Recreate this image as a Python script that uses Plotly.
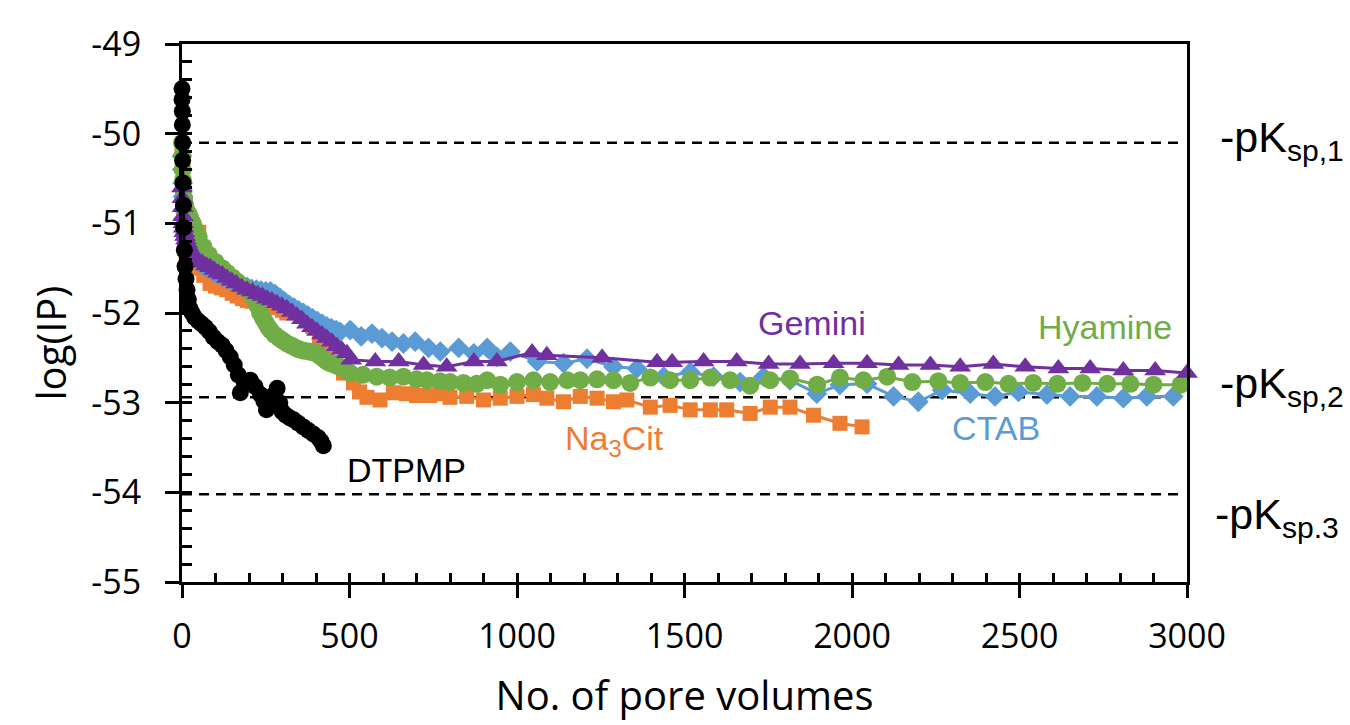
import plotly.graph_objects as go

# ---------------- data ----------------
gemini_x = [0, 1, 2, 3, 4, 5, 7, 9, 12, 15,
            20, 26, 34, 42, 50, 60, 72, 84, 96, 108,
            120, 134, 148, 162, 178, 194, 210, 226, 240, 254,
            268, 283, 298, 313, 328, 343, 358, 373, 388, 403,
            418, 432, 447, 462, 477, 492, 505, 577, 647, 721,
            790, 871, 940, 1045, 1089, 1254, 1418, 1463, 1557, 1656,
            1751, 1845, 1945, 2045, 2139, 2234, 2323, 2422, 2517, 2616,
            2711, 2810, 2905, 3000]
gemini_y = [-50.60, -50.72, -50.82, -50.92, -51.00, -51.05, -51.10, -51.14, -51.18, -51.22,
            -51.26, -51.31, -51.37, -51.40, -51.42, -51.44, -51.47, -51.49, -51.52, -51.55,
            -51.57, -51.61, -51.64, -51.67, -51.71, -51.74, -51.76, -51.79, -51.81, -51.84,
            -51.86, -51.89, -51.92, -51.95, -51.99, -52.03, -52.07, -52.12, -52.16, -52.20,
            -52.24, -52.28, -52.32, -52.37, -52.41, -52.45, -52.52, -52.54, -52.54, -52.58,
            -52.60, -52.54, -52.54, -52.44, -52.47, -52.50, -52.55, -52.55, -52.54, -52.54,
            -52.57, -52.57, -52.56, -52.56, -52.58, -52.58, -52.60, -52.57, -52.60, -52.62,
            -52.62, -52.64, -52.64, -52.67]

ctab_x = [0, 1, 2, 3, 4, 5, 7, 9, 12, 16,
          20, 27, 35, 43, 52, 62, 74, 86, 98, 110,
          124, 138, 152, 166, 180, 194, 208, 222, 236, 250,
          264, 278, 292, 306, 320, 334, 348, 362, 376, 390,
          404, 418, 432, 446, 460, 472, 502, 535, 567, 597,
          627, 661, 696, 736, 771, 826, 871, 911, 940, 980,
          1060, 1139, 1209, 1288, 1358, 1438, 1517, 1587, 1666, 1736,
          1815, 1895, 1964, 2045, 2124, 2198, 2269, 2353, 2427, 2497,
          2582, 2651, 2731, 2810, 2880, 2959]
ctab_y = [-50.25, -50.40, -50.55, -50.70, -50.85, -50.95, -51.05, -51.12, -51.18, -51.24,
          -51.28, -51.33, -51.37, -51.40, -51.43, -51.46, -51.49, -51.52, -51.55, -51.57,
          -51.60, -51.62, -51.65, -51.67, -51.69, -51.71, -51.73, -51.74, -51.75, -51.76,
          -51.76, -51.79, -51.83, -51.87, -51.91, -51.94, -51.97, -52.00, -52.03, -52.06,
          -52.09, -52.12, -52.15, -52.17, -52.19, -52.21, -52.19, -52.26, -52.23, -52.28,
          -52.32, -52.34, -52.32, -52.39, -52.43, -52.39, -52.45, -52.39, -52.49, -52.43,
          -52.54, -52.56, -52.51, -52.60, -52.62, -52.71, -52.66, -52.71, -52.77, -52.71,
          -52.75, -52.90, -52.80, -52.79, -52.93, -52.99, -52.86, -52.90, -52.93, -52.88,
          -52.91, -52.93, -52.93, -52.95, -52.93, -52.93]

hyamine_x = [0, 1, 2, 3, 4, 6, 8, 10, 14, 20,
             26, 32, 40, 50, 64, 80, 100, 120, 134, 150,
             165, 180, 194, 205, 215, 225, 233, 242, 250, 258,
             264, 276, 290, 302, 313, 325, 335, 345, 353, 365,
             380, 392, 402, 412, 422, 432, 442, 456, 470, 486,
             502, 540, 581, 620, 661, 700, 731, 770, 800, 840,
             880, 911, 950, 1000, 1049, 1099, 1150, 1189, 1239, 1288,
             1338, 1398, 1457, 1517, 1577, 1636, 1696, 1756, 1815, 1896,
             1964, 2034, 2105, 2180, 2258, 2323, 2398, 2467, 2541, 2613,
             2688, 2762, 2831, 2900, 2981]
hyamine_y = [-50.10, -50.25, -50.40, -50.52, -50.62, -50.72, -50.78, -50.82, -50.86, -50.90,
             -50.95, -51.00, -51.07, -51.15, -51.26, -51.35, -51.43, -51.50, -51.55, -51.60,
             -51.65, -51.70, -51.74, -51.78, -51.84, -51.92, -52.00, -52.06, -52.11, -52.16,
             -52.19, -52.24, -52.28, -52.31, -52.34, -52.36, -52.38, -52.40, -52.41, -52.42,
             -52.43, -52.44, -52.45, -52.48, -52.51, -52.54, -52.56, -52.58, -52.60, -52.63,
             -52.67, -52.69, -52.71, -52.72, -52.71, -52.74, -52.75, -52.76, -52.77, -52.78,
             -52.79, -52.75, -52.80, -52.77, -52.75, -52.77, -52.75, -52.75, -52.74, -52.75,
             -52.78, -52.72, -52.75, -52.75, -52.72, -52.75, -52.81, -52.75, -52.73, -52.80,
             -52.72, -52.75, -52.71, -52.77, -52.76, -52.78, -52.77, -52.79, -52.78, -52.79,
             -52.78, -52.79, -52.79, -52.80, -52.80]

na3cit_x = [0, 1, 2, 3, 4, 6, 8, 12, 18, 25,
            35, 50, 65, 84, 100, 117, 134, 150, 165, 180,
            195, 210, 225, 240, 255, 270, 285, 300, 313, 328,
            343, 358, 374, 390, 410, 432, 460, 482, 512, 530,
            552, 591, 631, 670, 700, 740, 770, 800, 850, 900,
            950, 1000, 1049, 1089, 1139, 1189, 1239, 1288, 1328, 1398,
            1457, 1517, 1577, 1626, 1696, 1756, 1815, 1885, 1964, 2030]
na3cit_y = [-50.15, -50.35, -50.55, -50.75, -50.95, -51.10, -51.22, -51.32, -51.40, -51.45,
            -51.50, -51.10, -51.58, -51.67, -51.70, -51.72, -51.74, -51.78, -51.81, -51.84,
            -51.86, -51.87, -51.88, -51.90, -51.91, -51.92, -51.94, -51.97, -52.00, -51.99,
            -51.98, -52.03, -52.08, -52.15, -52.28, -52.41, -52.55, -52.67, -52.78, -52.88,
            -52.94, -52.97, -52.89, -52.90, -52.92, -52.92, -52.90, -52.94, -52.93, -52.97,
            -52.95, -52.93, -52.91, -52.95, -52.99, -52.93, -52.95, -52.99, -52.97, -53.05,
            -53.03, -53.08, -53.08, -53.08, -53.12, -53.05, -53.05, -53.14, -53.23, -53.27]

dtpmp_x = [0, 0, 1, 1, 2, 2, 3, 4, 5, 7,
           9, 12, 15, 19, 24, 30, 38, 48, 58, 70,
           82, 94, 107, 120, 132, 144, 156, 168, 174, 186,
           204, 218, 234, 244, 252, 262, 272, 284, 292, 299,
           310, 322, 333, 347, 362, 377, 392, 407, 415, 422]
dtpmp_y = [-49.50, -49.62, -49.75, -49.90, -50.10, -50.30, -50.55, -50.80, -51.05, -51.30,
           -51.48, -51.62, -51.74, -51.85, -51.95, -52.00, -52.05, -52.09, -52.12, -52.16,
           -52.21, -52.27, -52.32, -52.36, -52.42, -52.49, -52.58, -52.69, -52.89, -52.78,
           -52.75, -52.82, -52.91, -52.98, -53.08, -52.97, -52.92, -52.84, -53.00, -53.10,
           -53.14, -53.17, -53.19, -53.23, -53.27, -53.31, -53.35, -53.39, -53.43, -53.48]

ksp_values = [-50.10, -52.94, -54.02]
ksp_labels = ["-pK<sub>sp,1</sub>", "-pK<sub>sp,2</sub>", "-pK<sub>sp.3</sub>"]

x_tickvals = [0, 500, 1000, 1500, 2000, 2500, 3000]
x_ticktext = ["0", "500", "1000", "1500", "2000", "2500", "3000"]
y_tickvals = [-55, -54, -53, -52, -51, -50, -49]
y_ticktext = ["-55", "-54", "-53", "-52", "-51", "-50", "-49"]

# ---------------- styling ----------------
C_GEM = "#7030A0"
C_CTAB = "#5B9BD5"
C_HYA = "#70AD47"
C_NA = "#ED7D31"
C_DT = "#000000"
TICK_FONT = dict(family="Open Sans", size=34, color="black")
LABEL_FONT = "Liberation Sans"

fig = go.Figure()


def add(x, y, name, color, symbol, size, xa="x", ya="y"):
    fig.add_trace(go.Scatter(
        x=x, y=y, name=name, mode="lines+markers",
        line=dict(color=color, width=3),
        marker=dict(color=color, symbol=symbol, size=size, line=dict(width=0)),
        cliponaxis=False, xaxis=xa, yaxis=ya, showlegend=False))


add(na3cit_x, na3cit_y, "Na3Cit", C_NA, "square", 15)
add(ctab_x, ctab_y, "CTAB", C_CTAB, "diamond", 16)
add(hyamine_x, hyamine_y, "Hyamine", C_HYA, "circle", 18)
add(gemini_x, gemini_y, "Gemini", C_GEM, "triangle-up", 19)
add(dtpmp_x, dtpmp_y, "DTPMP", C_DT, "circle", 17, "x2", "y2")

for v in ksp_values:
    fig.add_shape(type="line", xref="x", yref="y", x0=0, x1=2975, y0=v, y1=v,
                  line=dict(color="black", width=2.5, dash="10px,7px"), layer="below")

axis_common = dict(showgrid=False, zeroline=False, color="black")

fig.update_layout(
    width=1350, height=725,
    margin=dict(l=182, r=163, t=44, b=143),
    paper_bgcolor="white", plot_bgcolor="white",
    font=dict(family="Open Sans", color="black"),
    xaxis=dict(range=[0, 3000], tickvals=x_tickvals, ticktext=x_ticktext,
               ticks="outside", ticklen=13, tickwidth=3, tickcolor="black",
               showline=True, linewidth=3, linecolor="black", mirror=True,
               tickfont=TICK_FONT, ticklabelstandoff=9,
               title=dict(text="No. of pore volumes",
                          font=dict(family="Open Sans", size=40, color="black"),
                          standoff=26),
               **axis_common),
    yaxis=dict(range=[-55, -49], tickvals=y_tickvals, ticktext=y_ticktext,
               ticks="outside", ticklen=14, tickwidth=3, tickcolor="black",
               showline=True, linewidth=3, linecolor="black", mirror=True,
               tickfont=TICK_FONT, ticklabelstandoff=17,
               **axis_common),
    xaxis2=dict(range=[0, 3000], overlaying="x", anchor="y2", side="bottom",
                dtick=100, tick0=0, ticks="inside", ticklen=9, tickwidth=3,
                tickcolor="black", showticklabels=False, showline=False,
                **axis_common),
    yaxis2=dict(range=[-55, -49], overlaying="y", anchor="x2", side="left",
                dtick=0.2, tick0=-55, ticks="inside", ticklen=10, tickwidth=3,
                tickcolor="black", showticklabels=False, showline=False,
                **axis_common),
)

annotations = [
    dict(text="log(IP)", xref="paper", yref="paper", x=-0.131, y=0.444,
         textangle=-90, showarrow=False, xanchor="center", yanchor="middle",
         font=dict(family="Open Sans", size=40, color="black")),
    dict(text="Gemini", x=1881, y=-52.11, font=dict(family=LABEL_FONT, size=34, color=C_GEM)),
    dict(text="Hyamine", x=2756, y=-52.16, font=dict(family=LABEL_FONT, size=34, color=C_HYA)),
    dict(text="CTAB", x=2430, y=-53.28, font=dict(family=LABEL_FONT, size=34, color=C_CTAB)),
    dict(text="Na<sub>3</sub>Cit", x=1290, y=-53.42, font=dict(family=LABEL_FONT, size=34, color=C_NA)),
    dict(text="DTPMP", x=669, y=-53.75, font=dict(family=LABEL_FONT, size=34, color=C_DT)),
]
for a in annotations[1:]:
    a.update(xref="x", yref="y", showarrow=False, xanchor="center", yanchor="middle")

ksp_shift = [3, 11, -23]
ksp_xpos = [1.0308, 1.0308, 1.026]
for v, lab, s, xp in zip(ksp_values, ksp_labels, ksp_shift, ksp_xpos):
    annotations.append(dict(text=lab, xref="paper", yref="y", x=xp, y=v, yshift=s,
                            showarrow=False, xanchor="left", yanchor="middle",
                            font=dict(family=LABEL_FONT, size=43, color="black")))
fig.update_layout(annotations=annotations)

fig.write_html("out.html", config={"displayModeBar": False},
               post_script="document.body.style.margin='0';document.body.style.overflow='hidden';")
